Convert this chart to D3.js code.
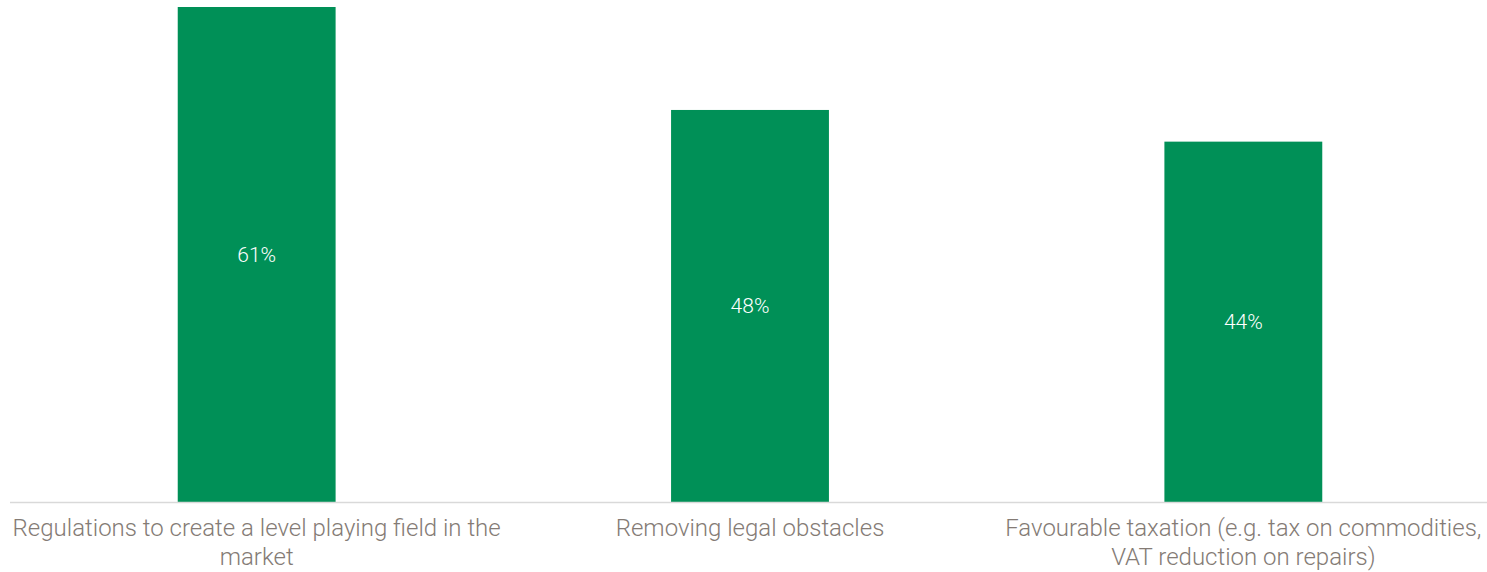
<!DOCTYPE html>
<html>
<head>
<meta charset="utf-8">
<script src="https://cdn.jsdelivr.net/npm/d3@7"></script>
<style>
  html, body { margin: 0; padding: 0; background: #fff; }
  svg { display: block; }
</style>
</head>
<body>
<script>
'use strict';

// categories and values
const categories = [
  'Regulations to create a level playing field in the market',
  'Removing legal obstacles',
  'Favourable taxation (e.g. tax on commodities, VAT reduction on repairs)'
];
const values = [61, 48, 44];

const width = 1487;
const height = 572;
const margin = { top: 7, right: -3, bottom: 70, left: 10 };

const svg = d3.select('body').append('svg')
  .attr('width', width)
  .attr('height', height);

const x = d3.scaleBand()
  .domain(categories)
  .range([margin.left, width - margin.right])
  .paddingInner(0.68)
  .paddingOuter(0.34);

// value axis starts a little below zero, as in the source chart
const y = d3.scaleLinear()
  .domain([-1.5, 61])
  .range([height - margin.bottom, margin.top]);

const base = y.range()[0];

svg.append('g')
  .selectAll('rect')
  .data(values)
  .join('rect')
    .attr('x', (d, i) => x(categories[i]))
    .attr('y', d => y(d))
    .attr('width', x.bandwidth())
    .attr('height', d => base - y(d))
    .attr('fill', '#009057');

svg.append('line')
  .attr('x1', margin.left)
  .attr('x2', width)
  .attr('y1', base + 0.5)
  .attr('y2', base + 0.5)
  .attr('stroke', '#d9d9d9')
  .attr('stroke-width', 1.5);

svg.append('g')
  .selectAll('text')
  .data(values)
  .join('text')
    .attr('x', (d, i) => x(categories[i]) + x.bandwidth() / 2)
    .attr('y', d => (y(d) + base) / 2)
    .attr('dy', '0.35em')
    .attr('text-anchor', 'middle')
    .attr('fill', '#fff')
    .style('font', '300 21px Roboto, sans-serif')
    .text(d => `${d}%`);

// wrapped category labels
const step = x.step();
const label = svg.append('g')
  .selectAll('text')
  .data(categories)
  .join('text')
    .attr('text-anchor', 'middle')
    .attr('fill', '#847b75')
    .style('font', '300 24px Roboto, sans-serif')
    .attr('transform', d => `translate(${x(d) + x.bandwidth() / 2},${base + 34})`);

label.each(function(d) {
  const text = d3.select(this);
  const words = d.split(' ');
  let line = [];
  let lineNo = 0;
  let tspan = text.append('tspan').attr('x', 0).attr('y', 0);
  for (const w of words) {
    line.push(w);
    tspan.text(line.join(' '));
    if (tspan.node().getComputedTextLength() > step - 2 && line.length > 1) {
      line.pop();
      tspan.text(line.join(' '));
      line = [w];
      lineNo++;
      tspan = text.append('tspan').attr('x', 0).attr('y', lineNo * 29).text(w);
    }
  }
});
</script>
</body>
</html>
